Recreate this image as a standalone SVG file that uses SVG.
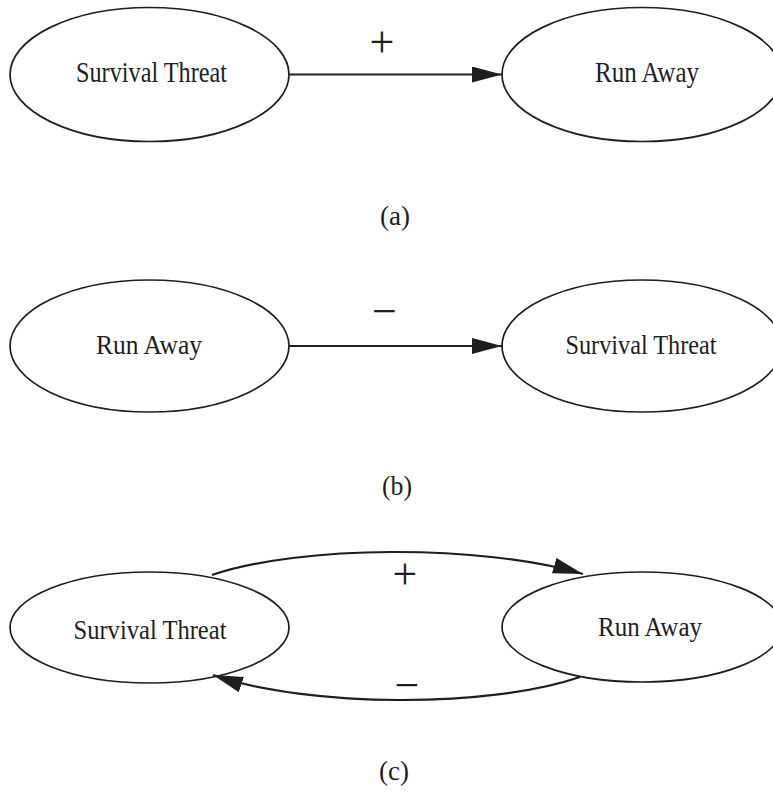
<svg xmlns="http://www.w3.org/2000/svg" width="773" height="793" viewBox="0 0 773 793">
  <style>
    .node ellipse { fill: #ffffff; stroke: #1e1e1e; stroke-width: 1.7; }
    .label { font-family: "Liberation Serif", "Times New Roman", serif; fill: #1e1e1e; text-anchor: middle; }
    .sign { font-family: "Liberation Serif", "Times New Roman", serif; font-size: 44px; fill: #1e1e1e; text-anchor: middle; }
    .caption { font-family: "Liberation Serif", "Times New Roman", serif; font-size: 27px; fill: #1e1e1e; text-anchor: middle; }
    .edge { fill: none; stroke: #1e1e1e; stroke-width: 2.2; }
  </style>
  <defs>
    <marker id="arrow" markerUnits="userSpaceOnUse" markerWidth="32" markerHeight="18" refX="30" refY="8" orient="auto">
      <path d="M0,0 L30,8 L0,16 Z" fill="#1e1e1e"/>
    </marker>
  </defs>
  <rect width="773" height="793" fill="#ffffff"/>

  <!-- (a) threat excites running away -->
  <g id="a-threat" class="node">
    <ellipse cx="149.5" cy="74.5" rx="139.5" ry="67"/>
    <text class="label" x="151.5" y="82" font-size="30" textLength="151" lengthAdjust="spacingAndGlyphs">Survival Threat</text>
  </g>
  <g id="a-run" class="node">
    <ellipse cx="642" cy="74.5" rx="140" ry="67"/>
    <text class="label" x="647" y="82" font-size="30" textLength="104" lengthAdjust="spacingAndGlyphs">Run Away</text>
  </g>

  <!-- (b) running away reduces threat -->
  <g id="b-run" class="node">
    <ellipse cx="149.5" cy="346" rx="139.5" ry="66"/>
    <text class="label" x="149" y="354" font-size="28" textLength="106" lengthAdjust="spacingAndGlyphs">Run Away</text>
  </g>
  <g id="b-threat" class="node">
    <ellipse cx="642" cy="346" rx="140" ry="66"/>
    <text class="label" x="641" y="354" font-size="28" textLength="151" lengthAdjust="spacingAndGlyphs">Survival Threat</text>
  </g>

  <!-- (c) feedback loop -->
  <g id="c-threat" class="node">
    <ellipse cx="149.5" cy="627.5" rx="139.5" ry="55.5"/>
    <text class="label" x="150" y="639" font-size="27" textLength="153" lengthAdjust="spacingAndGlyphs">Survival Threat</text>
  </g>
  <g id="c-run" class="node">
    <ellipse cx="642" cy="627" rx="140" ry="55"/>
    <text class="label" x="650" y="636" font-size="27" textLength="104" lengthAdjust="spacingAndGlyphs">Run Away</text>
  </g>

  <g id="connectors">
    <path class="edge" d="M289,74.5 L502,74.5" marker-end="url(#arrow)"/>
    <path class="edge" d="M289,346 L502,346" marker-end="url(#arrow)"/>
    <path class="edge" d="M212,575 C300,545 480,544 583,574" marker-end="url(#arrow)"/>
    <path class="edge" d="M580,677 C490,708 310,708 213,675" marker-end="url(#arrow)"/>
  </g>

  <!-- edge signs -->
  <text class="sign" x="382" y="57">+</text>
  <text class="sign" x="384.5" y="326">−</text>
  <text class="sign" x="405" y="589">+</text>
  <text class="sign" x="407" y="700">−</text>

  <!-- panel captions -->
  <text class="caption" x="395" y="225" textLength="30" lengthAdjust="spacingAndGlyphs">(a)</text>
  <text class="caption" x="397" y="495" textLength="30" lengthAdjust="spacingAndGlyphs">(b)</text>
  <text class="caption" x="394" y="780" textLength="30" lengthAdjust="spacingAndGlyphs">(c)</text>
</svg>
